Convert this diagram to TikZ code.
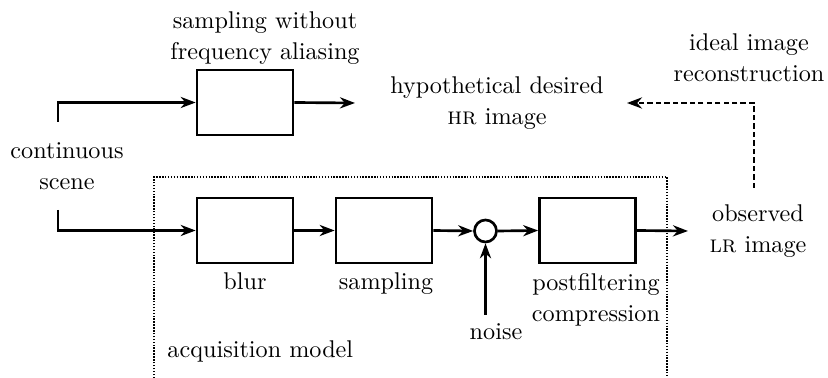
\documentclass[tikz,border=0pt]{standalone}
\usetikzlibrary{arrows.meta}
\begin{document}
\begin{tikzpicture}[x=0.4132pt,y=-0.4132pt,
  txt/.style={font={\fontsize{10pt}{13.2pt}\selectfont},align=center,anchor=base,inner sep=0pt},
  blk/.style={draw,line width=1.1pt,minimum width=39.67pt,minimum height=26.86pt,inner sep=0pt},
  sumnode/.style={draw,circle,line width=1.1pt,minimum size=9.1pt,inner sep=0pt},
  arr/.style={line width=1.1pt,-{Stealth[length=6.2pt,width=4.6pt,inset=2pt]}},
  dasharr/.style={arr,dash pattern=on 2.2pt off 1.3pt},
  dotbox/.style={line width=1pt,dash pattern=on 0.6pt off 0.6pt}]
\useasboundingbox (0,0) rectangle (828,378);
% blocks
\node[blk] (topbox) at (245,102.5) {};
\node[blk] (blur) at (245,230.5) {};
\node[blk] (samp) at (384,230.5) {};
\node[sumnode] (sum) at (485.5,231) {};
\node[blk] (post) at (587.5,230.5) {};
% texts (anchor base = baseline of last line)
\node[txt] (tsamp) at (265,60) {sampling without\\frequency aliasing};
\node[txt] (tcont) at (67,190) {continuous\\scene};
\node[txt] (thr) at (497,125) {hypothetical desired\\\textsc{hr} image};
\node[txt] (tideal) at (749,82) {ideal image\\reconstruction};
\node[txt] (tobs) at (758,253) {observed\\\textsc{lr} image};
\node[txt] (tblur) at (245,290) {blur};
\node[txt] (tsampling) at (386,290) {sampling};
\node[txt] (tpost) at (596,322) {postfiltering\\compression};
\node[txt] (tnoise) at (496,340) {noise};
\node[txt,anchor=base west] (tacq) at (167,358) {acquisition model};
% coordinates
\coordinate (in1) at (58,122);
\coordinate (hrin) at (355,103);
\coordinate (in2) at (58,210);
\coordinate (lrout) at (688,231);
\coordinate (noisestart) at (485.5,315);
\coordinate (rec) at (754,188);
\coordinate (hrend) at (627,103);
% acquisition model frame
\draw[dotbox] (154,378) -- (154,177) -- (667,177) -- (667,378);
% connectors
\draw[arr] (in1) |- (topbox.west);
\draw[arr] (topbox.east) -- (hrin);
\draw[arr] (in2) |- (blur.west);
\draw[arr] (blur.east) -- (samp.west);
\draw[arr] (samp.east) -- (sum.west);
\draw[arr] (sum.east) -- (post.west);
\draw[arr] (post.east) -- (lrout);
\draw[arr] (noisestart) -- (sum.south);
\draw[dasharr] (rec) |- (hrend);
\end{tikzpicture}
\end{document}
